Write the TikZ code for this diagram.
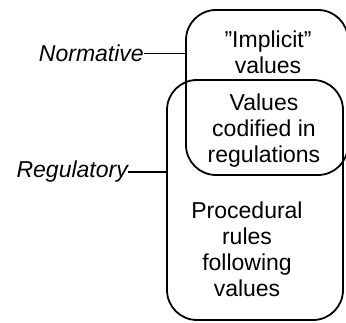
\documentclass[tikz,border=0pt]{standalone}
\usepackage{fontspec}
\setmainfont{Liberation Sans}
\begin{document}
\begin{tikzpicture}[x=1pt,y=-1pt,
  lbl/.style={font=\fontsize{23}{26}\selectfont\itshape, inner sep=0pt},
  boxtext/.style={font=\fontsize{23}{26}\selectfont, align=center, inner sep=0pt, anchor=north},
  rbox/.style={draw, line width=1.8pt, rounded corners=30pt, inner sep=0pt},
  conn/.style={line width=1.3pt}]
\useasboundingbox (0,0) rectangle (346,323);
\clip (0,0) rectangle (346,323);
% the two overlapping rounded boxes
\node[rbox, minimum width=162pt, minimum height=165pt] (upper) at (267,92.5) {};
\node[rbox, minimum width=176pt, minimum height=240pt] (lower) at (255,200) {};
% texts inside the boxes
\node[boxtext] (implicit) at (268,30.3) {”Implicit”\\values};
\node[boxtext] (codified) at (264,93.3) {Values\\codified in\\regulations};
\node[boxtext] (procedural) at (247,201.3) {Procedural\\rules\\following\\values};
% side labels
\node[lbl, anchor=base east] (norm) at (144,62) {Normative};
\node[lbl, anchor=base east] (reg) at (128,178) {Regulatory};
% connectors from the labels to the boxes
\draw[conn] (norm.east) -- (norm.east -| upper.west);
\draw[conn] (reg.east) -- (reg.east -| lower.west);
\end{tikzpicture}
\end{document}
